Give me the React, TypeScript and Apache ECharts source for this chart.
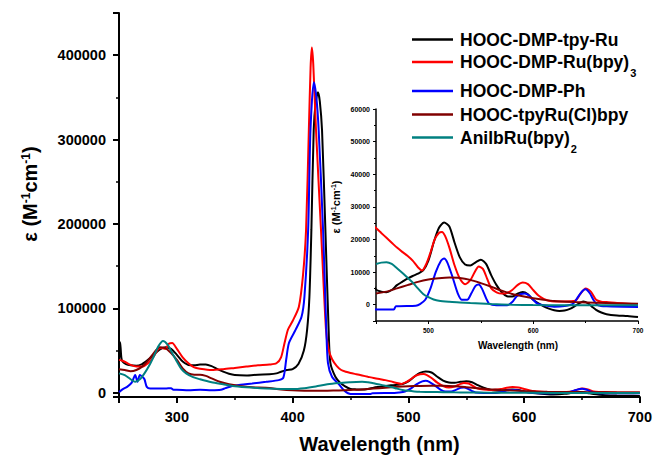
import { useEffect, useRef } from "react";
import * as echarts from "echarts";

const seriesNames = [
  "HOOC-DMP-tpy-Ru",
  "HOOC-DMP-Ru(bpy)3",
  "HOOC-DMP-Ph",
  "HOOC-tpyRu(Cl)bpy",
  "AnilbRu(bpy)2",
];
const legendLabels = [
  "HOOC-DMP-tpy-Ru",
  "HOOC-DMP-Ru(bpy){sub|3}",
  "HOOC-DMP-Ph",
  "HOOC-tpyRu(Cl)bpy",
  "AnilbRu(bpy){sub|2}",
];
const seriesColors = ["#000000", "#ff0000", "#0000ff", "#800000", "#008080"];

const blackCurve: [number, number][] = [
  [250, 36000], [251, 60000], [252, 42000], [253, 37000], [256, 34000], [260, 32500], [265, 32000],
  [270, 34000], [275, 39000], [280, 45000], [285, 51000], [290, 54000], [295, 52000], [300, 45000],
  [305, 37000], [310, 33000], [315, 32500], [320, 33500], [325, 33500], [330, 31500], [335, 28000],
  [340, 25000], [345, 22500], [350, 21000], [360, 20500], [370, 21500], [380, 22000], [386, 23000],
  [390, 25000], [395, 27000], [400, 28000], [405, 34000], [409.7, 50000], [412.5, 74500], [414.5, 114000],
  [416.2, 193000], [418.2, 311000], [420, 345000], [421.9, 356000], [423.5, 345000], [425.4, 311000],
  [428.3, 193000], [431.1, 74500], [432.6, 35500], [436.9, 19000], [441, 12000], [445, 8000],
  [450, 4600], [455, 4000], [460, 3800], [465, 4500], [470, 6000], [475, 7000], [480, 8000],
  [485, 8800], [490, 9500], [495, 10500], [500, 13500], [505, 19000], [510, 23500], [515, 25200],
  [520, 24000], [525, 19000], [530, 14500], [535, 12300], [540, 12000], [545, 13000], [550, 13800],
  [555, 12500], [560, 9000], [565, 6000], [570, 3800], [575, 2600], [580, 2500], [585, 3400],
  [590, 3900], [595, 3200], [600, 1500], [605, 400], [610, -500], [615, -1200], [620, -1700],
  [625, -1900], [630, -1800], [635, -1300], [640, -400], [645, 600], [648, 1000], [652, 500],
  [656, -600], [660, -1600], [665, -2400], [670, -2900], [680, -3300], [690, -3500], [700, -3800],
];

const redCurve: [number, number][] = [
  [250, 39000], [253, 38000], [256, 36000], [260, 33000], [265, 31000], [270, 31000], [275, 35000],
  [280, 43000], [284, 52000], [287, 53000], [290, 52000], [293, 58000], [296, 59000], [300, 52000],
  [305, 42000], [310, 35000], [315, 30000], [320, 28500], [330, 27000], [340, 28000], [350, 29500],
  [360, 31000], [370, 32500], [380, 33500], [386, 35000], [390, 42000], [393, 59000], [396, 75000],
  [400, 85000], [405.4, 102000], [409, 140000], [411.6, 193000], [414, 311000], [415.5, 385000],
  [416.6, 409000], [417.8, 390000], [420.2, 311000], [424.5, 193000], [428.8, 75000], [431, 52000],
  [434, 40000], [438, 32000], [442, 27000], [446, 25000], [450, 23500], [455, 22000], [460, 20500],
  [465, 19000], [470, 17500], [475, 16200], [480, 15000], [485, 13500], [490, 11500], [494, 10500],
  [498, 12500], [502, 16000], [506, 20000], [510, 22000], [513, 22300], [516, 21000], [520, 17500],
  [525, 12000], [530, 8000], [535, 6300], [540, 7500], [545, 10500], [548, 11700], [552, 11000],
  [556, 8000], [560, 5000], [565, 3800], [570, 3400], [575, 3600], [580, 4500], [585, 6000],
  [590, 6800], [595, 6300], [600, 4500], [605, 2800], [610, 1800], [615, 1200], [620, 1000],
  [630, 1000], [640, 1200], [645, 3300], [650, 5000], [655, 4000], [660, 1500], [665, 900],
  [670, 800], [680, 500], [690, 300], [700, 200],
];

const blueCurve: [number, number][] = [
  [250, 500], [253, 4000], [257, 7000], [261, 12000], [264, 21000], [266, 13000], [268, 21000],
  [270, 19000], [272, 16000], [274, 7000], [277, 5000], [285, 5000], [290, 5000], [295, 5500],
  [297, 3500], [300, 3500], [310, 3000], [320, 3500], [330, 3000], [338, 3500], [342, 5500],
  [348, 8000], [355, 9500], [365, 11000], [377, 13000], [388, 15000], [392, 18000], [394.5, 40000],
  [396.8, 59000], [402.5, 74500], [407.7, 90000], [410.2, 114000], [413.4, 193000], [415.4, 311000],
  [418.3, 368000], [420.5, 350000], [422.5, 311000], [426.3, 193000], [429.1, 74500], [430.5, 35500],
  [434, 19000], [440, 10000], [445, 2000], [450, -1500], [467, -1500], [469, -500], [488, -300],
  [492, 200], [497, 1500], [502, 5000], [507, 10000], [512, 13500], [515, 14200], [518, 13000],
  [523, 8500], [528, 3500], [532, 1500], [537, 1500], [541, 3500], [545, 5800], [548, 6200],
  [551, 5000], [555, 2000], [558, 300], [565, -200], [575, -200], [580, 800], [584, 2500],
  [588, 3300], [592, 3400], [596, 2800], [600, 1500], [604, 300], [610, -200], [620, -600],
  [630, -400], [638, 300], [643, 2500], [647, 4200], [650, 4700], [654, 3500], [658, 1200],
  [662, -200], [670, -500], [700, -700],
];

const darkRedCurve: [number, number][] = [
  [250, 28000], [255, 27000], [260, 25500], [265, 27000], [270, 31000], [275, 38000], [280, 47000],
  [285, 54000], [290, 53000], [295, 47000], [300, 39000], [305, 29000], [310, 23000], [315, 21500],
  [320, 21500], [325, 20000], [330, 17000], [337, 13000], [345, 10000], [354, 8000], [365, 6500],
  [377, 6000], [390, 4000], [400, 3000], [410, 2500], [420, 2300], [430, 2400], [440, 2800],
  [450, 3400], [460, 4000], [470, 5000], [480, 6000], [490, 7000], [500, 7700], [510, 8100],
  [520, 8300], [530, 8200], [540, 7600], [550, 6600], [560, 5500], [570, 4300], [580, 3300],
  [590, 2600], [600, 2000], [610, 1500], [620, 1100], [640, 800], [660, 600], [680, 400], [700, 300],
];

const tealCurve: [number, number][] = [
  [250, 23000], [255, 21000], [260, 16000], [264, 13000], [268, 16000], [272, 23000], [276, 32000],
  [280, 43000], [284, 55000], [288, 61500], [292, 57000], [296, 47000], [300, 37000], [304, 28000],
  [308, 23000], [314, 18500], [320, 16000], [330, 12500], [340, 10000], [348, 8000], [360, 6500],
  [377, 5000], [390, 4500], [400, 4500], [410, 5500], [420, 7500], [430, 10000], [440, 11500],
  [450, 12500], [455, 12900], [460, 13000], [465, 12500], [470, 11200], [475, 9800], [480, 8300],
  [485, 6800], [490, 5000], [495, 3300], [500, 2300], [505, 1600], [510, 1200], [520, 900],
  [530, 700], [540, 500], [550, 350], [560, 200], [580, 0], [600, -100], [650, -200], [700, -200],
];

const curves = [blackCurve, redCurve, blueCurve, darkRedCurve, tealCurve];

const mainXTickLabels = [300, 400, 500, 600, 700];
const mainYTickLabels = [0, 100000, 200000, 300000, 400000];
const insetXTickLabels = [500, 600, 700];
const insetYTickLabels = [0, 10000, 20000, 30000, 40000, 50000, 60000];

const FONT = "'Liberation Sans', Arial, sans-serif";

export default function App() {
  const ref = useRef<HTMLDivElement>(null);
  useEffect(() => {
    if (!ref.current) return;
    const chart = echarts.init(ref.current, undefined, { renderer: "svg" });
    const only = (list: number[]) => (v: number) => (list.includes(v) ? String(v) : "");
    const supRich = (size: number) => ({
      sup: { fontSize: size, fontWeight: "bold", fontFamily: FONT, color: "#000", verticalAlign: "top" },
    });
    const mainSeries = curves.map((data, i) => ({
      name: seriesNames[i],
      type: "line",
      xAxisIndex: 0,
      yAxisIndex: 0,
      data,
      showSymbol: false,
      symbol: "none",
      smooth: 0.25,
      lineStyle: { color: seriesColors[i], width: 2 },
      itemStyle: { color: seriesColors[i] },
    }));
    const insetSeries = curves.map((data, i) => ({
      name: seriesNames[i] + " (inset)",
      type: "line",
      xAxisIndex: 1,
      yAxisIndex: 1,
      data: data.filter((p) => p[0] >= 445),
      showSymbol: false,
      symbol: "none",
      smooth: 0.25,
      lineStyle: { color: seriesColors[i], width: 2 },
      itemStyle: { color: seriesColors[i] },
    }));
    const legendRowsY = [39.5, 62, 91, 114.5, 137.5];
    const legendGraphics: any[] = [];
    legendLabels.forEach((label, i) => {
      legendGraphics.push({
        type: "line",
        shape: { x1: 412, y1: legendRowsY[i], x2: 453, y2: legendRowsY[i] },
        style: { stroke: seriesColors[i], lineWidth: 2.5 },
      });
      legendGraphics.push({
        type: "text",
        x: 460,
        y: legendRowsY[i],
        style: {
          text: label,
          fontSize: 17.5,
          fontWeight: "bold",
          fontFamily: FONT,
          fill: "#000",
          verticalAlign: "middle",
          align: "left",
          rich: {
            sub: { fontSize: 11, fontWeight: "bold", fontFamily: FONT, fill: "#000", color: "#000", verticalAlign: "bottom", padding: [22, 0, 0, 1] },
          },
        },
      });
    });

    const option: any = {
      animation: false,
      backgroundColor: "#ffffff",
      textStyle: { fontFamily: FONT },
      grid: [
        { left: 119, right: 13, top: 13, bottom: 62 },
        { left: 376, right: 17, top: 109, bottom: 138 },
      ],
      xAxis: [
        {
          gridIndex: 0,
          type: "value",
          min: 250,
          max: 700,
          minInterval: 100,
          maxInterval: 100,
          axisLine: { show: true, onZero: false, lineStyle: { color: "#000", width: 2 } },
          axisTick: { show: true, inside: false, length: 6, lineStyle: { color: "#000", width: 2 } },
          minorTick: { show: true, splitNumber: 2, length: 3, lineStyle: { color: "#000", width: 1.5 } },
          splitLine: { show: false },
          axisLabel: { formatter: only(mainXTickLabels), fontSize: 14.5, fontWeight: "bold", color: "#000", margin: 12, fontFamily: FONT },
          name: "Wavelength (nm)",
          nameLocation: "middle",
          nameGap: 37,
          nameTextStyle: { fontSize: 20, fontWeight: "bold", color: "#000", fontFamily: FONT },
        },
        {
          gridIndex: 1,
          type: "value",
          min: 450,
          max: 700,
          minInterval: 100,
          maxInterval: 100,
          axisLine: { show: true, onZero: false, lineStyle: { color: "#000", width: 1.5 } },
          axisTick: { show: true, inside: false, length: 3, lineStyle: { color: "#000", width: 1 } },
          minorTick: { show: true, splitNumber: 2, length: 2, lineStyle: { color: "#000", width: 1 } },
          splitLine: { show: false },
          axisLabel: { formatter: only(insetXTickLabels), fontSize: 6.5, fontWeight: "bold", color: "#000", margin: 6, fontFamily: FONT },
          name: "Wavelength (nm)",
          nameLocation: "middle",
          nameGap: 19,
          nameTextStyle: { fontSize: 10, fontWeight: "bold", color: "#000", fontFamily: FONT, padding: [0, 0, 0, 22] },
        },
      ],
      yAxis: [
        {
          gridIndex: 0,
          type: "value",
          min: -5000,
          max: 450000,
          minInterval: 100000,
          maxInterval: 100000,
          axisLine: { show: true, onZero: false, lineStyle: { color: "#000", width: 2 } },
          axisTick: { show: true, inside: false, length: 6, lineStyle: { color: "#000", width: 2 } },
          minorTick: { show: true, splitNumber: 2, length: 3, lineStyle: { color: "#000", width: 1.5 } },
          splitLine: { show: false },
          axisLabel: { formatter: only(mainYTickLabels), fontSize: 14.5, fontWeight: "bold", color: "#000", margin: 13, fontFamily: FONT },
          name: "ε (M{sup|-1}cm{sup|-1})",
          nameLocation: "middle",
          nameGap: 79,
          nameTextStyle: { fontSize: 20, fontWeight: "bold", color: "#000", fontFamily: FONT, padding: [0, 0, 0, 22], rich: supRich(12) },
        },
        {
          gridIndex: 1,
          type: "value",
          min: -5000,
          max: 60000,
          minInterval: 10000,
          maxInterval: 10000,
          axisLine: { show: true, onZero: false, lineStyle: { color: "#000", width: 1.5 } },
          axisTick: { show: true, inside: false, length: 3, lineStyle: { color: "#000", width: 1 } },
          minorTick: { show: true, splitNumber: 2, length: 2, lineStyle: { color: "#000", width: 1 } },
          splitLine: { show: false },
          axisLabel: { formatter: only(insetYTickLabels), fontSize: 7, fontWeight: "bold", color: "#000", margin: 6, fontFamily: FONT },
          name: "ε (M{sup|-1}cm{sup|-1})",
          nameLocation: "middle",
          nameGap: 35,
          nameTextStyle: { fontSize: 11, fontWeight: "bold", color: "#000", fontFamily: FONT, padding: [0, 0, 0, 16], rich: supRich(7) },
        },
      ],
      series: [...mainSeries, ...insetSeries],
      graphic: legendGraphics,
    };
    chart.setOption(option);
    return () => chart.dispose();
  }, []);
  return <div ref={ref} style={{ position: "fixed", left: 0, top: 0, width: 655, height: 459 }} />;
}
